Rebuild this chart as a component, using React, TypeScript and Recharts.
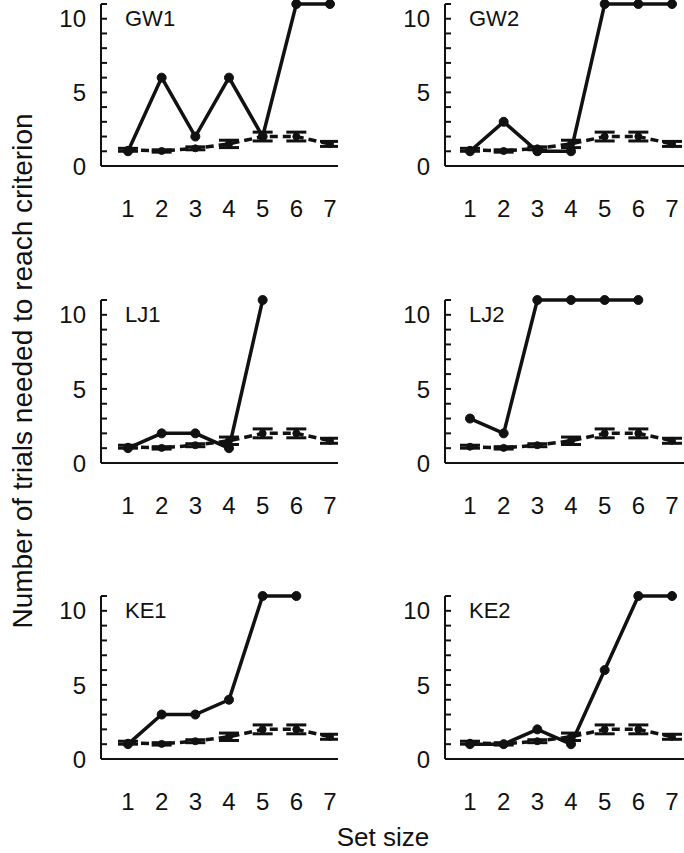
import React from "react";
import { ErrorBar, Line, LineChart, XAxis, YAxis } from "recharts";

// set sizes on the x axis
const setSizes = [1, 2, 3, 4, 5, 6, 7];

// dashed series (mean with error bars), same in every panel
const controlMean = [1.1, 1.02, 1.2, 1.5, 2.0, 2.0, 1.5];
const controlErr = [0.1, 0.08, 0.1, 0.25, 0.3, 0.3, 0.17];

// solid series, one per subject (null = not tested)
const gw1 = [1, 6, 2, 6, 2, 11, 11];
const gw2 = [1, 3, 1, 1, 11, 11, 11];
const lj1 = [1, 2, 2, 1, 11, null, null];
const lj2 = [3, 2, 11, 11, 11, 11, null];
const ke1 = [1, 3, 3, 4, 11, 11, null];
const ke2 = [1, 1, 2, 1, 6, 11, 11];

const panelNames = ["GW1", "GW2", "LJ1", "LJ2", "KE1", "KE2"];
const panelValues = [gw1, gw2, lj1, lj2, ke1, ke2];

const yTicks = [0, 1, 2, 3, 4, 5, 6, 7, 8, 9, 10, 11];
const yLabels = [0, 5, 10];

const INK = "#111";
const FONT = '"Liberation Sans", Arial, Helvetica, sans-serif';

// plot area placement on the page
const rows = [
  { top: 4, h: 162 },
  { top: 300, h: 163 },
  { top: 596, h: 163 },
];
const cols = [
  { left: 0, axisW: 101, width: 338, domain: [0.198, 7.238] },
  { left: 342, axisW: 103, width: 342, domain: [0.2575, 7.356] },
];
const XH = 60;

function YTick(props: any) {
  const { x, y, payload } = props;
  const v = payload.value;
  return (
    <g>
      <line x1={x} x2={x + 6} y1={y} y2={y} stroke={INK} strokeWidth={2} />
      {yLabels.includes(v) && (
        <text
          x={x - 15}
          y={y}
          dy="0.36em"
          textAnchor="end"
          fill={INK}
          fontSize={24}
          fontFamily={FONT}
        >
          {v}
        </text>
      )}
    </g>
  );
}

function XTick(props: any) {
  const { x, y, payload } = props;
  return (
    <text
      x={x}
      y={y + 42}
      dy="0.36em"
      textAnchor="middle"
      fill={INK}
      fontSize={24}
      fontFamily={FONT}
    >
      {payload.value}
    </text>
  );
}

function Panel({ idx }: { idx: number }) {
  const row = rows[Math.floor(idx / 2)];
  const col = cols[idx % 2];
  const values = panelValues[idx];
  const data = setSizes.map((s, i) => ({
    size: s,
    control: controlMean[i],
    controlErr: controlErr[i],
    subject: values[i],
  }));
  // chart box starts at the page top for the first row
  const mt = Math.min(12, row.top);

  return (
    <div
      style={{
        position: "absolute",
        left: col.left,
        top: row.top - mt,
      }}
    >
      <LineChart
        width={col.width}
        height={mt + row.h + XH}
        data={data}
        margin={{ top: mt, right: 0, bottom: 0, left: 0 }}
        style={{ overflow: "visible" }}
      >
        <XAxis
          type="number"
          dataKey="size"
          domain={col.domain}
          ticks={setSizes}
          height={XH}
          tickSize={0}
          tickMargin={0}
          tickLine={false}
          axisLine={{ stroke: INK, strokeWidth: 2 }}
          tick={<XTick />}
        />
        <YAxis
          type="number"
          domain={[0, 11]}
          ticks={yTicks}
          interval={0}
          width={col.axisW}
          tickSize={0}
          tickMargin={0}
          tickLine={false}
          axisLine={{ stroke: INK, strokeWidth: 2 }}
          tick={<YTick />}
        />
        <Line
          dataKey="control"
          stroke={INK}
          strokeWidth={3.5}
          strokeDasharray="8 5"
          dot={{ r: 3.5, fill: INK, stroke: INK, strokeWidth: 1, strokeDasharray: "", clipDot: false }}
          isAnimationActive={false}
        >
          <ErrorBar
            dataKey="controlErr"
            width={10}
            strokeWidth={3}
            stroke={INK}
            strokeDasharray=""
            isAnimationActive={false}
          />
        </Line>
        <Line
          dataKey="subject"
          stroke={INK}
          strokeWidth={3.5}
          dot={{ r: 4.5, fill: INK, stroke: INK, strokeWidth: 1, clipDot: false }}
          connectNulls={false}
          isAnimationActive={false}
        />
      </LineChart>
    </div>
  );
}

export default function App() {
  return (
    <div
      style={{
        position: "absolute",
        left: 0,
        top: 0,
        width: 684,
        height: 853,
        overflow: "hidden",
        background: "#fff",
      }}
    >
      {panelNames.map((_, i) => (
        <Panel key={i} idx={i} />
      ))}
      <svg
        width={684}
        height={853}
        style={{ position: "absolute", left: 0, top: 0, pointerEvents: "none" }}
      >
        {panelNames.map((name, i) => {
          const row = rows[Math.floor(i / 2)];
          const col = cols[i % 2];
          return (
            <text
              key={name}
              x={col.left + col.axisW + 24}
              y={row.top + row.h / 11 + 7}
              fill={INK}
              fontSize={22}
              fontFamily={FONT}
            >
              {name}
            </text>
          );
        })}
        <text
          transform="translate(32, 371) rotate(-90)"
          textAnchor="middle"
          fill={INK}
          fontSize={28}
          fontFamily={FONT}
        >
          Number of trials needed to reach criterion
        </text>
        <text
          x={383}
          y={846}
          textAnchor="middle"
          fill={INK}
          fontSize={26}
          fontFamily={FONT}
        >
          Set size
        </text>
      </svg>
    </div>
  );
}
